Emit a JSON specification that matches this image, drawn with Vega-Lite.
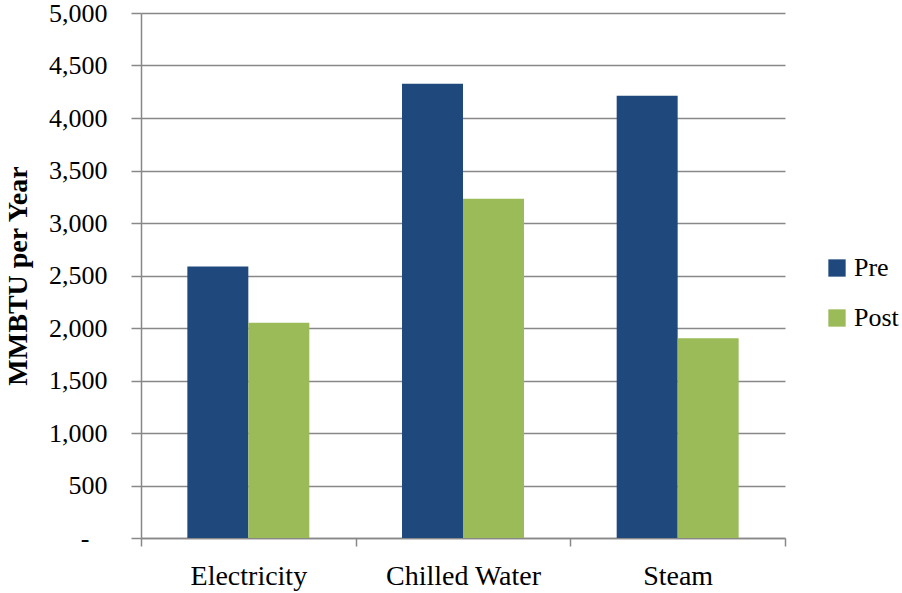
{
  "$schema": "https://vega.github.io/schema/vega-lite/v6.json",
  "width": 644,
  "height": 525,
  "autosize": "none",
  "padding": {"left": 141, "top": 13, "right": 117, "bottom": 55},
  "background": "white",
  "config": {
    "font": "Liberation Serif",
    "view": {"stroke": null}
  },
  "data": {
    "values": [
      {"category": "Electricity", "period": "Pre", "value": 2586},
      {"category": "Electricity", "period": "Post", "value": 2050},
      {"category": "Chilled Water", "period": "Pre", "value": 4326},
      {"category": "Chilled Water", "period": "Post", "value": 3230},
      {"category": "Steam", "period": "Pre", "value": 4211},
      {"category": "Steam", "period": "Post", "value": 1903}
    ]
  },
  "mark": {"type": "bar"},
  "encoding": {
    "x": {
      "field": "category",
      "type": "nominal",
      "sort": ["Electricity", "Chilled Water", "Steam"],
      "scale": {"paddingInner": 0, "paddingOuter": 0},
      "axis": {
        "title": null,
        "labelAngle": 0,
        "labelFontSize": 28,
        "labelColor": "#000000",
        "labelPadding": 16,
        "tickBand": "extent",
        "tickSize": 8,
        "tickColor": "#888888",
        "tickWidth": 1.5,
        "domainColor": "#888888",
        "domainWidth": 1.5,
        "grid": false
      }
    },
    "xOffset": {"field": "period", "type": "nominal", "sort": ["Pre", "Post"], "scale": {"paddingInner": 0, "paddingOuter": 0.76}},
    "y": {
      "field": "value",
      "type": "quantitative",
      "scale": {"domain": [0, 5000]},
      "axis": {
        "title": "MMBTU per Year",
        "titleFontSize": 28,
        "titleFontWeight": "bold",
        "titleColor": "#000000",
        "titlePadding": 16,
        "values": [0, 500, 1000, 1500, 2000, 2500, 3000, 3500, 4000, 4500, 5000],
        "labelExpr": "datum.value == 0 ? '-' : format(datum.value, ',')",
        "labelFontSize": 26,
        "labelColor": "#000000",
        "labelPadding": {"condition": {"test": "datum.value == 0", "value": 42}, "value": 24},
        "tickSize": 10,
        "tickColor": "#888888",
        "tickWidth": 1.5,
        "domainColor": "#888888",
        "domainWidth": 1.5,
        "grid": true,
        "gridColor": "#888888",
        "gridWidth": 1.5
      }
    },
    "color": {
      "field": "period",
      "type": "nominal",
      "sort": ["Pre", "Post"],
      "scale": {"domain": ["Pre", "Post"], "range": ["#1F497D", "#9BBB59"]},
      "legend": {
        "title": null,
        "orient": "none",
        "legendX": 683,
        "legendY": 242,
        "symbolType": "square",
        "symbolSize": 300,
        "symbolStrokeWidth": 0,
        "labelFontSize": 26,
        "labelColor": "#000000",
        "labelOffset": 4,
        "rowPadding": 24
      }
    }
  }
}
